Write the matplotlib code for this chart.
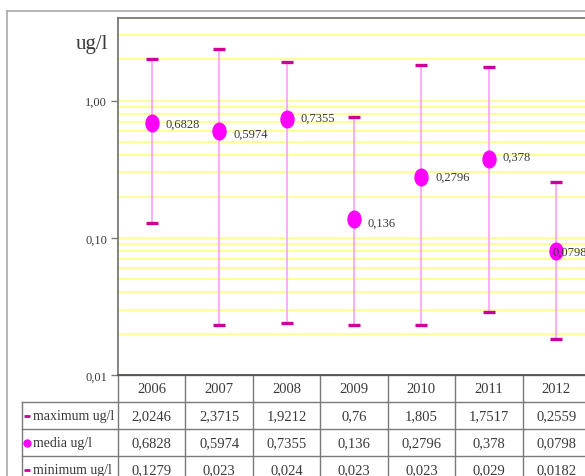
import matplotlib
matplotlib.use("Agg")
import matplotlib.pyplot as plt
import matplotlib.transforms as mtransforms
from matplotlib.path import Path
from matplotlib.ticker import LogLocator, FixedLocator, NullFormatter
from matplotlib.lines import Line2D

years = ["2006", "2007", "2008", "2009", "2010", "2011", "2012"]
maximum = [2.0246, 2.3715, 1.9212, 0.76, 1.805, 1.7517, 0.2559]
media = [0.6828, 0.5974, 0.7355, 0.136, 0.2796, 0.378, 0.0798]
minimum = [0.1279, 0.023, 0.024, 0.023, 0.023, 0.029, 0.0182]
max_txt = ["2,0246", "2,3715", "1,9212", "0,76", "1,805", "1,7517", "0,2559"]
media_txt = ["0,6828", "0,5974", "0,7355", "0,136", "0,2796", "0,378", "0,0798"]
min_txt = ["0,1279", "0,023", "0,024", "0,023", "0,023", "0,029", "0,0182"]
row_labels = ["maximum ug/l", "media ug/l", "minimum ug/l"]
ytick_vals = [0.01, 0.1, 1.0]
ytick_labels = ["0,01", "0,10", "1,00"]
unit_label = "ug/l"

plt.rcParams['font.family'] = ['Liberation Serif', 'DejaVu Serif']

W, H = 585, 477
fig = plt.figure(figsize=(W / 100, H / 100), dpi=100)
fig.patch.set_facecolor('white')

# axes in pixel geometry
L, R, T, B = 118, 590, 19, 376
ax = fig.add_axes([L / W, 1 - B / H, (R - L) / W, (B - T) / H])

MAG = '#FF00FF'
DASH = '#CC0099'
VLINE = '#FF9EFF'
GRID = '#FFFF99'
TXT = '#3a3a3a'
LINEC = '#7a7a7a'

x = list(range(len(years)))
ax.set_yscale('log')
ax.set_ylim(0.01, 4)
ax.set_xlim(-0.5, len(years) - 0.5)

ax.yaxis.set_major_locator(FixedLocator(ytick_vals))
ax.set_yticklabels(ytick_labels)
ax.yaxis.set_minor_locator(LogLocator(base=10, subs=range(2, 10)))
ax.yaxis.set_minor_formatter(NullFormatter())
ax.tick_params(axis='y', which='minor', length=0)
ax.tick_params(axis='y', which='major', length=5, width=1, color=LINEC,
               labelsize=9, labelcolor=TXT, pad=3)
ax.set_xticks([])
ax.grid(True, axis='y', which='both', color=GRID, linewidth=1.5, zorder=0)
ax.set_axisbelow(True)

for side in ['left', 'top', 'bottom']:
    ax.spines[side].set_color(LINEC)
    ax.spines[side].set_linewidth(1.3)
ax.spines['bottom'].set_color('#555555')
ax.spines['right'].set_visible(False)

# vertical range lines
ax.vlines(x, minimum, maximum, color=VLINE, linewidth=1.2, zorder=2)
ax.plot(x, maximum, linestyle='none', marker='_', markersize=9,
        markeredgewidth=2.4, color=DASH, zorder=3)
ax.plot(x, minimum, linestyle='none', marker='_', markersize=9,
        markeredgewidth=2.4, color=DASH, zorder=3)

ell = Path.unit_circle().transformed(mtransforms.Affine2D().scale(0.78, 1.0))
ax.plot(x, media, linestyle='none', marker=ell, markersize=12,
        color=MAG, markeredgecolor=MAG, zorder=4)

label_dx = [10, 10, 10, 10, 10, 10, -3]
label_dy = [0, -2, 1, -2, 0, 1, 0]
for xi, v, t, dx, dy in zip(x, media, media_txt, label_dx, label_dy):
    ax.annotate(t, (xi, v), xytext=(dx, dy), textcoords='offset points',
                ha='left', va='center', fontsize=9, color=TXT, zorder=5)

fig.text(92 / W, 1 - 45 / H, unit_label, ha='center', va='center',
         fontsize=15, color=TXT)

# ---- data table below the axes ----
trans = mtransforms.blended_transform_factory(ax.transData, ax.transAxes)
ph = (B - T)
def yf(py):
    return -(py - B) / ph

row_edges_px = [376, 403, 430, 457, 484]
row_edges = [yf(p) for p in row_edges_px]
lab_left = -0.5 - (L - 22) / ((R - L) / len(years))
col_edges = [i - 0.5 for i in range(len(years) + 1)]

lkw = dict(color=LINEC, linewidth=1.0, transform=trans, clip_on=False)
# horizontal lines
for i, ye in enumerate(row_edges):
    x0 = -0.5 if i == 0 else lab_left
    ax.add_line(Line2D([x0, col_edges[-1] + 0.2], [ye, ye], **lkw))
# vertical lines
for ce in col_edges:
    ax.add_line(Line2D([ce, ce], [row_edges[0], row_edges[-1]], **lkw))
ax.add_line(Line2D([lab_left, lab_left], [row_edges[1], row_edges[-1]], **lkw))

tkw = dict(transform=trans, ha='center', va='center', fontsize=10.5,
           color=TXT, clip_on=False)
for xi, yr in enumerate(years):
    ax.text(xi, (row_edges[0] + row_edges[1]) / 2, yr, **tkw)
for r, vals in enumerate([max_txt, media_txt, min_txt]):
    yc = (row_edges[r + 1] + row_edges[r + 2]) / 2
    for xi, t in enumerate(vals):
        ax.text(xi, yc, t, **tkw)
    ax.text(lab_left + 0.17, yc, row_labels[r], transform=trans, ha='left',
            va='center', fontsize=10, color=TXT, clip_on=False)

# legend keys in the row label cells
key_x = lab_left + 0.08
yc0 = (row_edges[1] + row_edges[2]) / 2
yc1 = (row_edges[2] + row_edges[3]) / 2
yc2 = (row_edges[3] + row_edges[4]) / 2
ax.plot([key_x], [yc0], marker='_', markersize=5, markeredgewidth=2,
        color=DASH, transform=trans, clip_on=False)
ax.plot([key_x], [yc1], marker='o', markersize=5, color=MAG,
        transform=trans, clip_on=False)
ax.plot([key_x], [yc2], marker='_', markersize=5, markeredgewidth=2,
        color=DASH, transform=trans, clip_on=False)

# outer chart border
fig.add_artist(Line2D([7 / W, 7 / W], [1 - 12 / H, 0], color='#a8a8a8',
                      linewidth=1.2, transform=fig.transFigure))
fig.add_artist(Line2D([7 / W, 1], [1 - 12 / H, 1 - 12 / H], color='#a8a8a8',
                      linewidth=1.2, transform=fig.transFigure))

fig.savefig('out.png', dpi=100)
